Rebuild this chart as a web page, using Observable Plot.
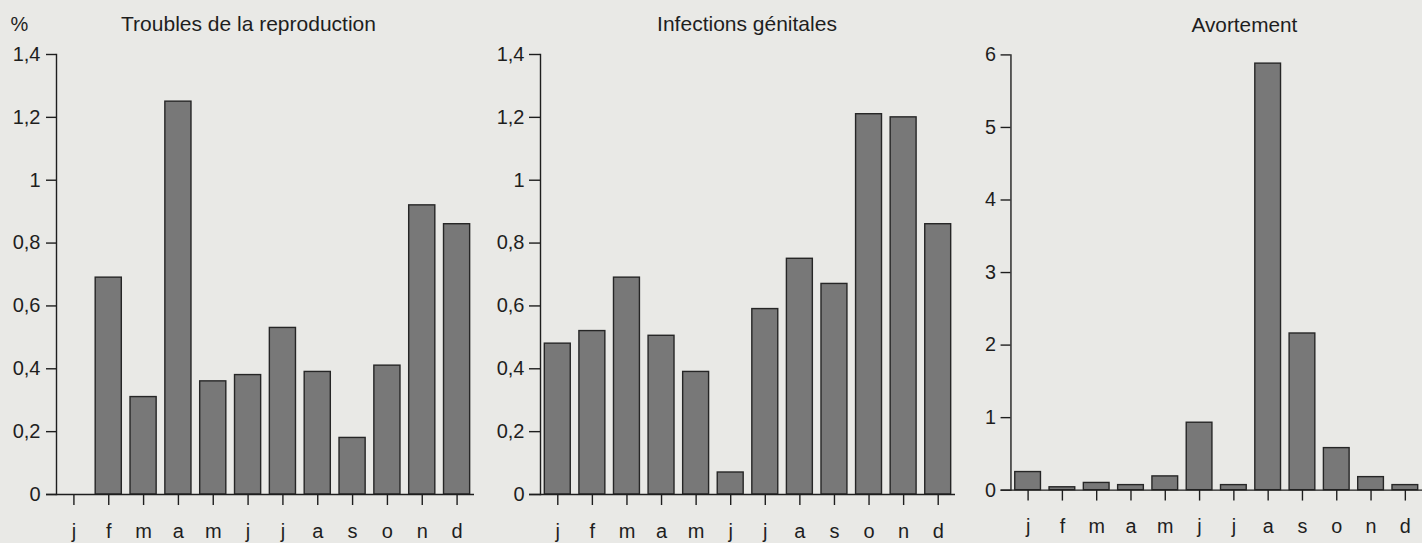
<!DOCTYPE html>
<html>
<head>
<meta charset="utf-8">
<script src="https://cdn.jsdelivr.net/npm/d3@7"></script>
<script src="https://cdn.jsdelivr.net/npm/@observablehq/plot@0.6"></script>
<style>
  html, body { margin: 0; padding: 0; background: #e9e9e6; }
  #wrap { position: relative; width: 1422px; height: 543px; overflow: hidden; background: #e9e9e6; }
  .panel { position: absolute; top: 0; }
  .panel svg { overflow: visible; }
  .panel svg line, .panel svg path { stroke-width: 1.4px; }
</style>
</head>
<body>
<div id="wrap">
  <div class="panel" id="p1" style="left:0px"></div>
  <div class="panel" id="p2" style="left:480px"></div>
  <div class="panel" id="p3" style="left:960px"></div>
</div>
<script>
// ---- data ----
const monthKeys = ["janv", "févr", "mars", "avr", "mai", "juin", "juil", "août", "sept", "oct", "nov", "déc"];
const monthLabels = ["j", "f", "m", "a", "m", "j", "j", "a", "s", "o", "n", "d"];

const titles = ["Troubles de la reproduction", "Infections génitales", "Avortement"];
const unitLabel = "%";

const troublesValues   = [0, 0.69, 0.31, 1.25, 0.36, 0.38, 0.53, 0.39, 0.18, 0.41, 0.92, 0.86];
const infectionsValues = [0.48, 0.52, 0.69, 0.505, 0.39, 0.07, 0.59, 0.75, 0.67, 1.21, 1.20, 0.86];
const avortementValues = [0.25, 0.04, 0.10, 0.07, 0.19, 0.93, 0.07, 5.88, 2.16, 0.58, 0.18, 0.07];

const yTicksSmall = [0, 0.2, 0.4, 0.6, 0.8, 1, 1.2, 1.4];
const yTicksLarge = [0, 1, 2, 3, 4, 5, 6];

// ---- helpers ----
const frFormat = d => String(d).replace(".", ",");
const monthFormat = d => monthLabels[monthKeys.indexOf(d)];
const FONT = "'Liberation Sans', Arial, Helvetica, sans-serif";
const INK = "#1e1e1e";

function panel({values, title, yMax, yTicks, width, marginLeft, marginRight, marginTop, marginBottom,
                titleDx, yTickSize, yTickPadding, showUnit}) {
  const rows = monthKeys.map((m, i) => ({month: m, value: values[i]}));
  const marks = [
    Plot.barY(rows, {x: "month", y: "value", fill: "#787878", stroke: "#262626", strokeWidth: 1.4}),
    Plot.ruleY([0], {stroke: INK, strokeWidth: 1.4, insetLeft: -yTickSize}),
    Plot.text([title], {frameAnchor: "top", dx: titleDx, dy: -30, fontSize: 21, fill: INK, lineAnchor: "middle"})
  ];
  if (showUnit) {
    marks.push(Plot.text([unitLabel], {frameAnchor: "top-left", dx: -37, dy: -30, textAnchor: "middle", fontSize: 20, fill: INK, lineAnchor: "middle"}));
  }
  return Plot.plot({
    width, height: 543,
    marginTop, marginBottom, marginLeft, marginRight,
    style: {background: "transparent", fontFamily: FONT, fontSize: "20px", color: INK, overflow: "visible"},
    x: {domain: monthKeys, paddingInner: 0.25, paddingOuter: 0.125, round: false, tickSize: 11, tickPadding: 18,
        tickFormat: monthFormat, label: null},
    y: {domain: [0, yMax], ticks: yTicks, tickFormat: frFormat, tickSize: yTickSize, tickPadding: yTickPadding,
        line: true, label: null},
    marks
  });
}

document.getElementById("p1").append(panel({
  values: troublesValues, title: titles[0], yMax: 1.4, yTicks: yTicksSmall,
  width: 480, marginLeft: 56, marginRight: 6, marginTop: 54, marginBottom: 49,
  titleDx: -17, yTickSize: 10, yTickPadding: 6, showUnit: true
}));
document.getElementById("p2").append(panel({
  values: infectionsValues, title: titles[1], yMax: 1.4, yTicks: yTicksSmall,
  width: 480, marginLeft: 60, marginRight: 5, marginTop: 54, marginBottom: 49,
  titleDx: -1, yTickSize: 11, yTickPadding: 5, showUnit: false
}));
document.getElementById("p3").append(panel({
  values: avortementValues, title: titles[2], yMax: 6, yTicks: yTicksLarge,
  width: 467, marginLeft: 51, marginRight: 0, marginTop: 55, marginBottom: 48,
  titleDx: 28, yTickSize: 10, yTickPadding: 5, showUnit: false
}));
</script>
</body>
</html>
